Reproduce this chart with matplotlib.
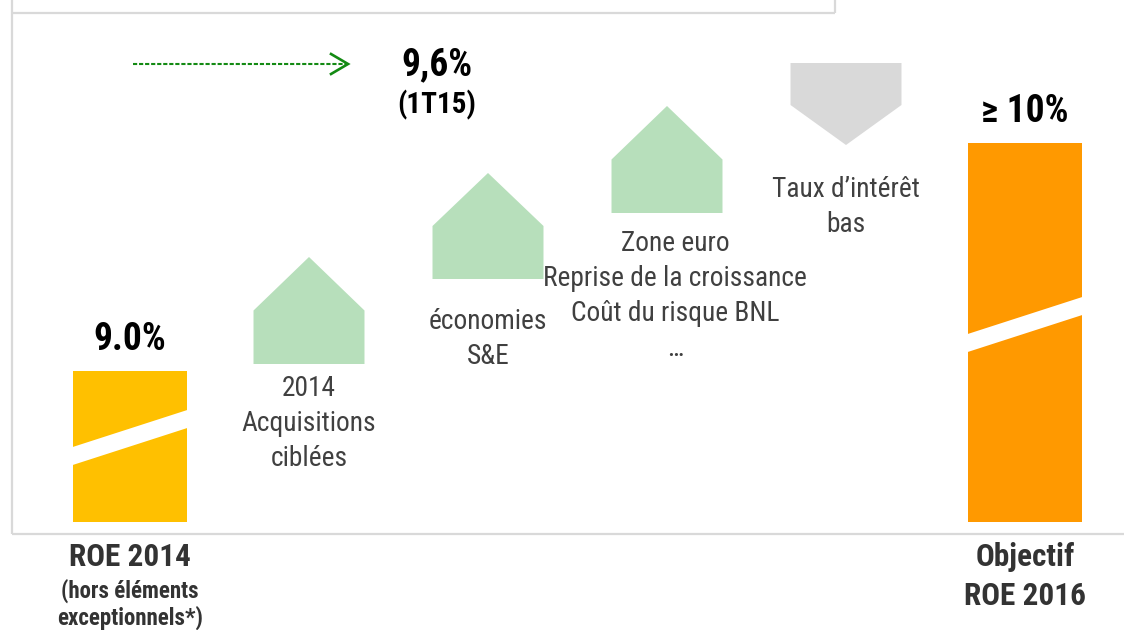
import numpy as np
import matplotlib.pyplot as plt
from matplotlib.patches import Polygon
from matplotlib.lines import Line2D

plt.rcParams['font.family'] = ['Roboto Condensed', 'Roboto', 'DejaVu Sans']

# bars at both ends of the bridge (heights in drawing units above the base line)
bar_labels = ["ROE 2014", "Objectif\nROE 2016"]
bar_notes = ["(hors éléments\nexceptionnels*)", ""]
bar_values = ["9.0%", "≥ 10%"]
bar_pos = [0, 5]
bar_heights = [151, 379]
bar_colors = ["#FFC000", "#FF9900"]
break_low = [57, 170]      # where the white break starts on the left edge

# drivers in between: (bottom, top) of each arrow shape
driver_labels = ["2014\nAcquisitions\nciblées",
                 "économies\nS&E",
                 "Zone euro\nReprise de la croissance\nCoût du risque BNL\n…",
                 "Taux d’intérêt\nbas"]
driver_pos = [1, 2, 3, 4]
driver_bottom = [158, 243, 309, 459]
driver_top = [265, 349, 416, 377]
driver_label_y = [147, 214, 292, 346]
driver_label_dx = [0, 0, 0.045, 0]

# intermediate point reached in 1Q15
mid_value = "9,6%"
mid_note = "(1T15)"
mid_x = 1.715
mid_level = 458

fig = plt.figure(figsize=(11.24, 6.3), dpi=100)
ax = fig.add_axes([0, 0, 1, 1])
ax.set_xlim(-130 / 179, (1124 - 130) / 179)
ax.set_ylim(-108, 522)
ax.axis('off')

# frame lines
frame = dict(color='#D9D9D9', lw=1.6, transform=fig.transFigure, solid_capstyle='butt')
fig.add_artist(Line2D([12 / 1124, 835 / 1124], [1 - 13 / 630] * 2, **frame))
fig.add_artist(Line2D([835 / 1124] * 2, [1, 1 - 13 / 630], **frame))
fig.add_artist(Line2D([12 / 1124] * 2, [1, 1 - 534 / 630], **frame))
fig.add_artist(Line2D([12 / 1124, 1], [1 - 534 / 630] * 2, **frame))

bw = 0.64
rise, gap = 37, 18
for x, h, c, lo, val, lab, note in zip(bar_pos, bar_heights, bar_colors, break_low,
                                       bar_values, bar_labels, bar_notes):
    ax.bar(x, h, width=bw, color=c, linewidth=0)
    # white slanted cut to show a broken axis
    ax.add_patch(Polygon([(x - bw / 2, lo), (x + bw / 2, lo + rise),
                          (x + bw / 2, lo + rise + gap), (x - bw / 2, lo + gap)],
                         closed=True, facecolor='white', edgecolor='none'))
    ax.text(x, h + 31, val, ha='center', va='center', fontsize=27,
            fontweight='bold', color='black')
    ax.text(x, -20, lab, ha='center', va='top', fontsize=22.5, fontweight='bold',
            color='#333333', linespacing=1.38)
    if note:
        ax.text(x, -57, note, ha='center', va='top', fontsize=16.5,
                fontweight='bold', color='#333333', linespacing=1.12)

dw = 0.62
for x, b, t, lab, ly, dx in zip(driver_pos, driver_bottom, driver_top,
                                driver_labels, driver_label_y, driver_label_dx):
    mid = (b + t) / 2
    if t > b:
        pts = [(x - dw / 2, b), (x - dw / 2, mid), (x, t), (x + dw / 2, mid), (x + dw / 2, b)]
        col = '#B7DFBB'
    else:
        pts = [(x - dw / 2, b), (x + dw / 2, b), (x + dw / 2, t + 40), (x, t), (x - dw / 2, t + 40)]
        col = '#D9D9D9'
    ax.add_patch(Polygon(pts, closed=True, facecolor=col, edgecolor='none'))
    ax.text(x + dx, ly, lab, ha='center', va='top', fontsize=19.7, color='#404040',
            linespacing=1.38)

# dashed arrow to the 1Q15 level, open head drawn solid
x0, x1 = 0.017, 1.218
hl, hw = 17 / 179, 10
ax.plot([x0, x1 - 0.01], [mid_level] * 2, color='#138A13', lw=1.5,
        linestyle=(0, (2, 0.9)))
ax.plot([x1 - hl, x1, x1 - hl], [mid_level + hw, mid_level, mid_level - hw],
        color='#138A13', lw=1.9, solid_joinstyle='miter')
ax.text(mid_x, mid_level - 1, mid_value, ha='center', va='center', fontsize=27,
        fontweight='bold', color='black')
ax.text(mid_x, mid_level - 41, mid_note, ha='center', va='center', fontsize=21,
        fontweight='bold', color='black')

fig.savefig('out.png', dpi=100)
